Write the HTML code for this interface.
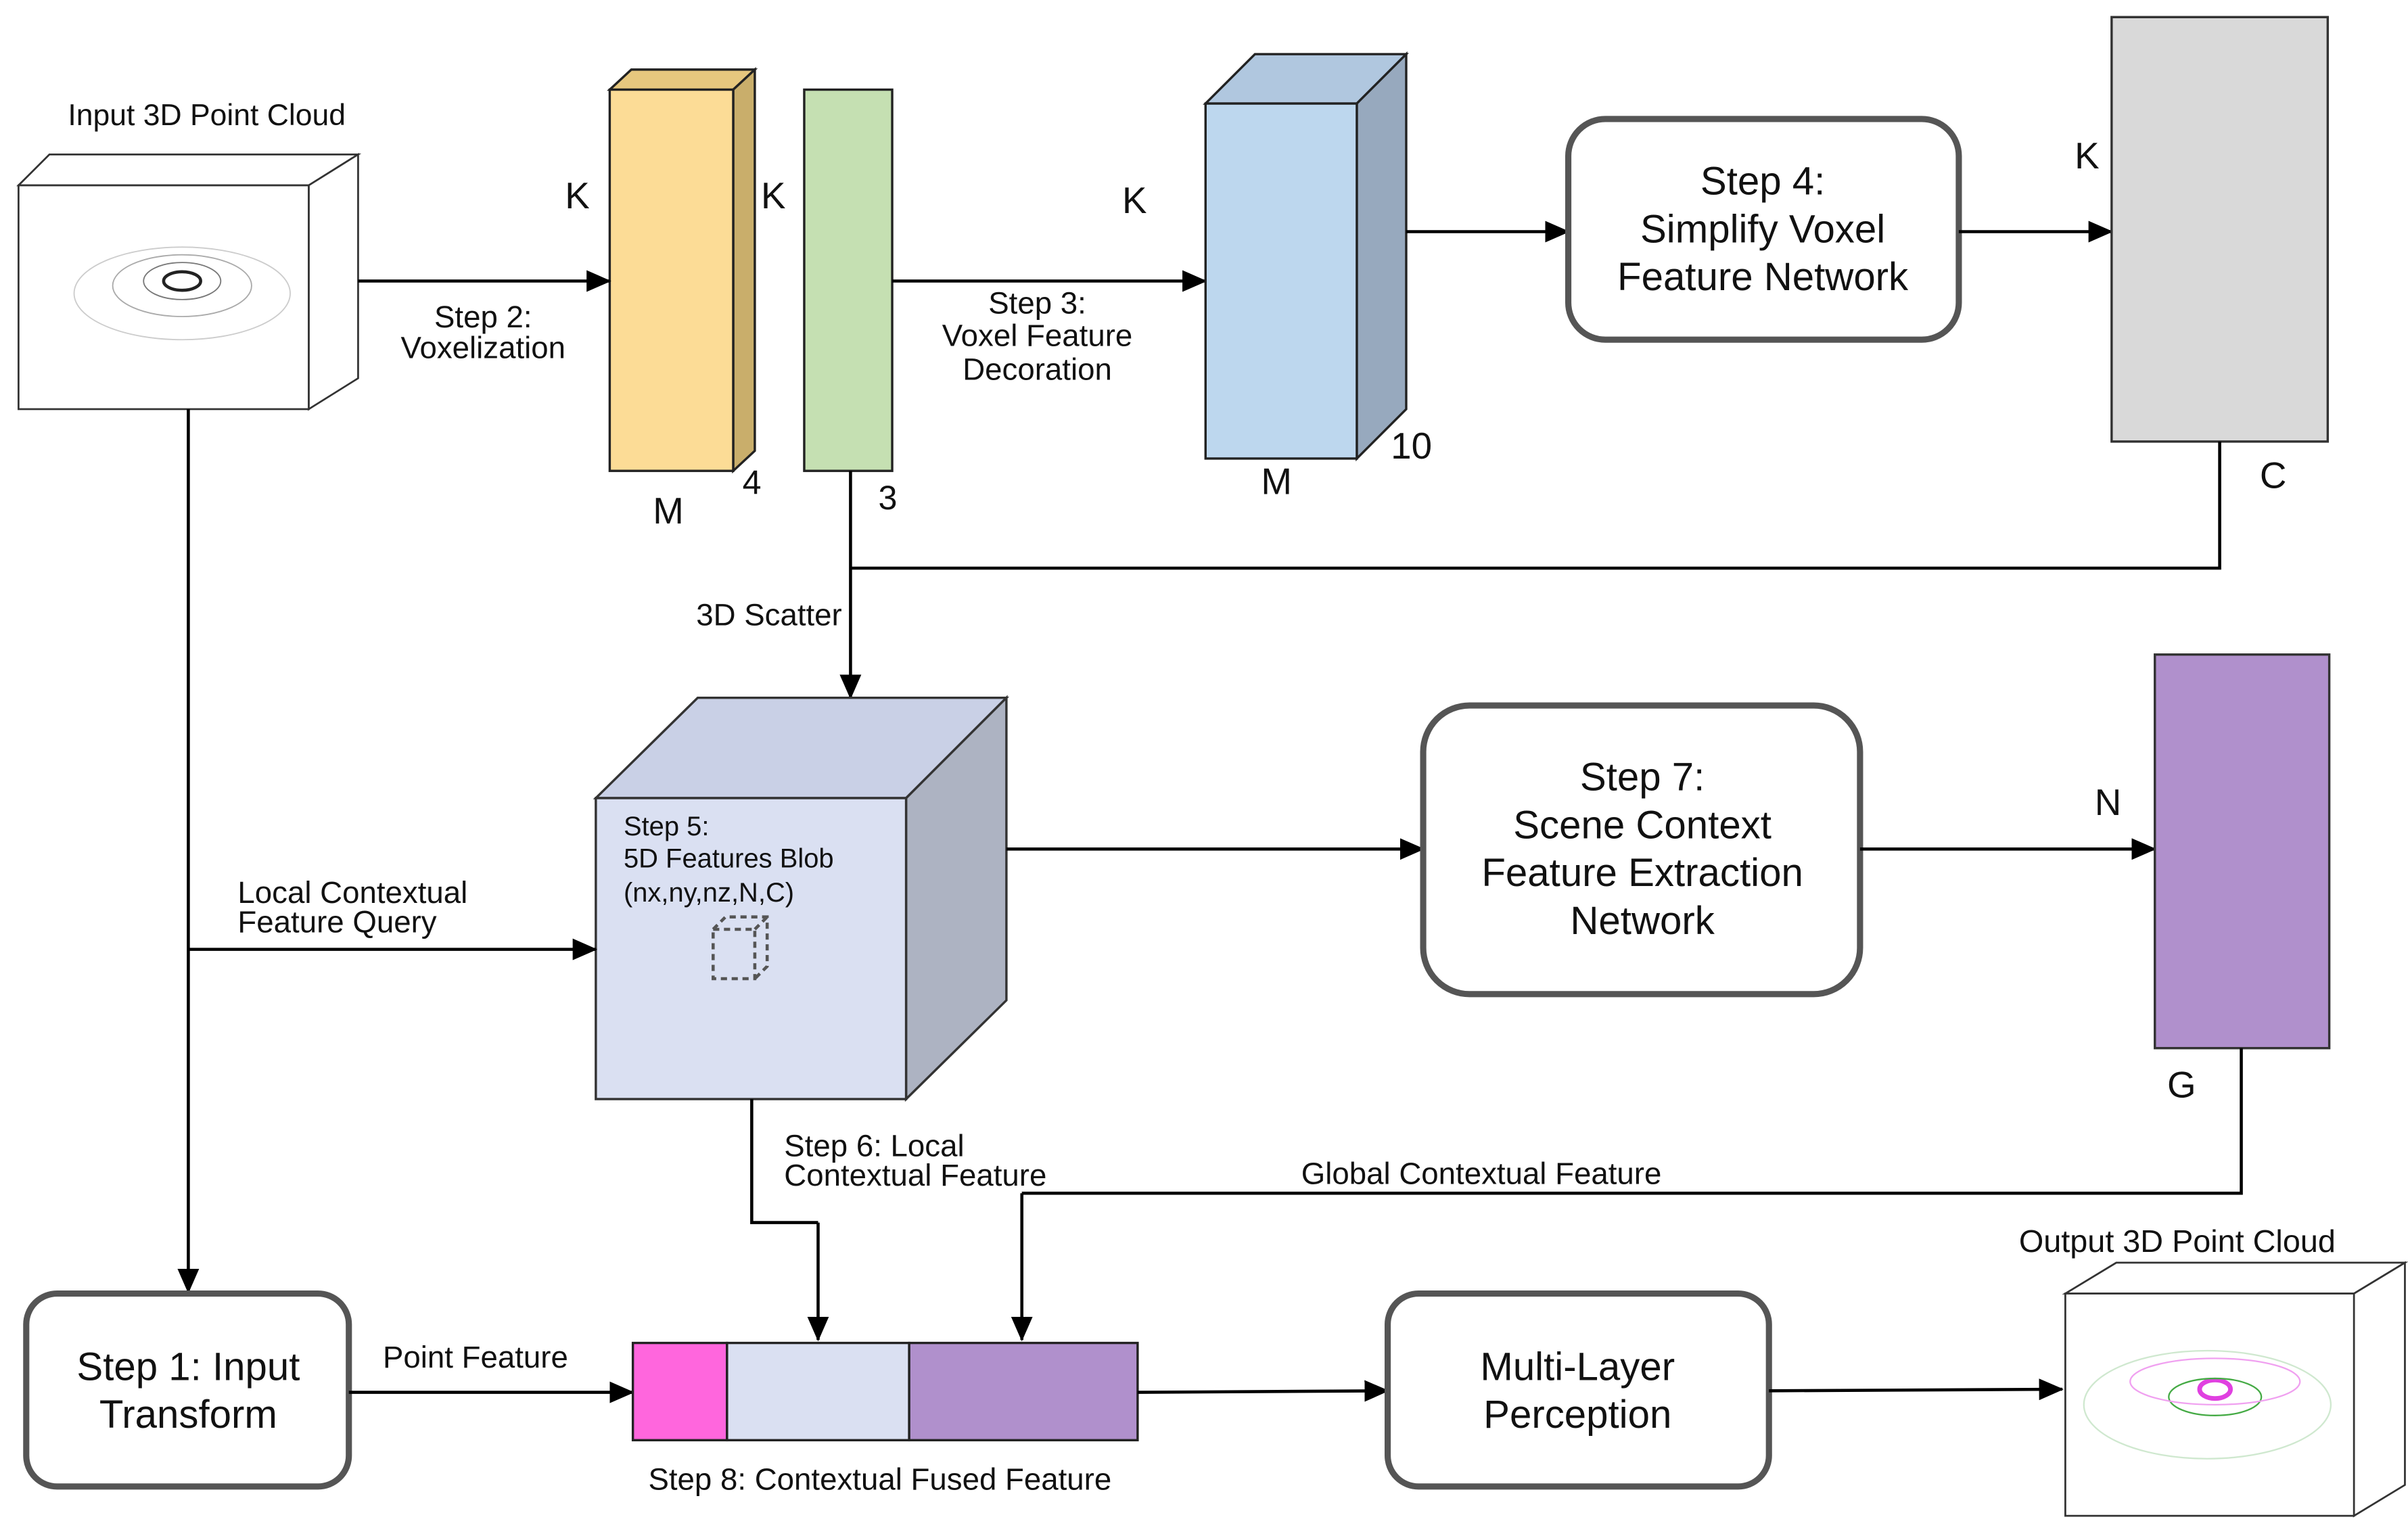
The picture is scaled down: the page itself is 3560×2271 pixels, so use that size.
<!DOCTYPE html>
<html><head><meta charset="utf-8"><style>
html,body{margin:0;padding:0;background:#fff;}
svg{display:block;}
text{font-family:"Liberation Sans",Arial,sans-serif;fill:#111;}
</style></head><body>
<svg width="3560" height="2271" viewBox="0 0 1560 995" xmlns="http://www.w3.org/2000/svg">
<defs>
<marker id="b" markerWidth="16" markerHeight="14" refX="15" refY="7" orient="auto" markerUnits="userSpaceOnUse">
<path d="M0,0 L16,7 L0,14 z" fill="#000"/></marker>
</defs>
<rect width="1560" height="995" fill="#fff"/>

<!-- Input cloud -->
<polygon points="12,120 32,100 232,100 200,120" fill="#fff" stroke="#333" stroke-width="1.2"/>
<polygon points="200,120 232,100 232,245 200,265" fill="#fff" stroke="#333" stroke-width="1.2"/>
<rect x="12" y="120" width="188" height="145" fill="#fff" stroke="#333" stroke-width="1.2"/>
<g fill="none" stroke="#777" stroke-width="0.8">
<ellipse cx="118" cy="182" rx="12" ry="6" stroke="#222" stroke-width="2"/>
<ellipse cx="118" cy="182" rx="25" ry="12"/>
<ellipse cx="118" cy="185" rx="45" ry="20" stroke="#aaa"/>
<ellipse cx="118" cy="190" rx="70" ry="30" stroke="#ccc"/>
</g>
<text x="44" y="81" font-size="19.5">Input 3D Point Cloud</text>

<!-- Yellow block -->
<polygon points="395,58 409,45 489,45 475,58" fill="#E6C77E" stroke="#222" stroke-width="1.5"/>
<polygon points="475,58 489,45 489,292 475,305" fill="#C9AE6B" stroke="#222" stroke-width="1.5"/>
<rect x="395" y="58" width="80" height="247" fill="#FCDC96" stroke="#222" stroke-width="1.5"/>
<rect x="521" y="58" width="57" height="247" fill="#C5E0B2" stroke="#222" stroke-width="1.5"/>
<text x="366" y="135" font-size="24">K</text>
<text x="493" y="135" font-size="24">K</text>
<text x="727" y="138" font-size="24">K</text>
<text x="423" y="339" font-size="24">M</text>
<text x="481" y="320" font-size="22">4</text>
<text x="569" y="330" font-size="22">3</text>

<line x1="232" y1="182" x2="395" y2="182" stroke="#000" stroke-width="2" marker-end="url(#b)"/>
<text x="313" y="212" font-size="20" text-anchor="middle">Step 2:</text>
<text x="313" y="232" font-size="20" text-anchor="middle">Voxelization</text>
<line x1="578" y1="182" x2="781" y2="182" stroke="#000" stroke-width="2" marker-end="url(#b)"/>
<text x="672" y="203" font-size="20" text-anchor="middle">Step 3:</text>
<text x="672" y="224" font-size="20" text-anchor="middle">Voxel Feature</text>
<text x="672" y="246" font-size="20" text-anchor="middle">Decoration</text>

<!-- Blue block -->
<polygon points="781,67 813,35 911,35 879,67" fill="#B0C7DF" stroke="#222" stroke-width="1.5"/>
<polygon points="879,67 911,35 911,265 879,297" fill="#97A9BE" stroke="#222" stroke-width="1.5"/>
<rect x="781" y="67" width="98" height="230" fill="#BDD7EE" stroke="#222" stroke-width="1.5"/>
<text x="901" y="297" font-size="24">10</text>
<text x="817" y="320" font-size="24">M</text>

<line x1="911" y1="150" x2="1016" y2="150" stroke="#000" stroke-width="2" marker-end="url(#b)"/>
<rect x="1016" y="77" width="253" height="143" rx="24" fill="#fff" stroke="#555" stroke-width="4"/>
<text x="1142" y="126" font-size="25.5" text-anchor="middle">Step 4:</text>
<text x="1142" y="157" font-size="25.5" text-anchor="middle">Simplify Voxel</text>
<text x="1142" y="188" font-size="25.5" text-anchor="middle">Feature Network</text>
<line x1="1269" y1="150" x2="1368" y2="150" stroke="#000" stroke-width="2" marker-end="url(#b)"/>
<text x="1344" y="109" font-size="24">K</text>
<rect x="1368" y="11" width="140" height="275" fill="#D9D9D9" stroke="#333" stroke-width="1.5"/>
<text x="1464" y="316" font-size="24">C</text>

<polyline points="1438,286 1438,368 551,368" fill="none" stroke="#000" stroke-width="2"/>
<line x1="551" y1="305" x2="551" y2="452" stroke="#000" stroke-width="2" marker-end="url(#b)"/>
<text x="451" y="405" font-size="20">3D Scatter</text>

<!-- Big cube -->
<polygon points="386,517 452,452 652,452 587,517" fill="#C9D0E6" stroke="#333" stroke-width="1.5"/>
<polygon points="587,517 652,452 652,648 587,712" fill="#ADB3C2" stroke="#333" stroke-width="1.5"/>
<rect x="386" y="517" width="201" height="195" fill="#DAE0F2" stroke="#333" stroke-width="1.5"/>
<text x="404" y="541" font-size="17.5">Step 5:</text>
<text x="404" y="562" font-size="17.5">5D Features Blob</text>
<text x="404" y="584" font-size="17.5">(nx,ny,nz,N,C)</text>
<g fill="none" stroke="#555" stroke-width="2" stroke-dasharray="4,3">
<rect x="462" y="602" width="27" height="32"/>
<polyline points="462,602 470,594 497,594 497,626 489,634"/>
<line x1="489" y1="602" x2="497" y2="594"/>
</g>

<line x1="652" y1="550" x2="922" y2="550" stroke="#000" stroke-width="2" marker-end="url(#b)"/>
<rect x="922" y="457" width="283" height="187" rx="30" fill="#fff" stroke="#555" stroke-width="4"/>
<text x="1064" y="512" font-size="25.5" text-anchor="middle">Step 7:</text>
<text x="1064" y="543" font-size="25.5" text-anchor="middle">Scene Context</text>
<text x="1064" y="574" font-size="25.5" text-anchor="middle">Feature Extraction</text>
<text x="1064" y="605" font-size="25.5" text-anchor="middle">Network</text>
<line x1="1205" y1="550" x2="1396" y2="550" stroke="#000" stroke-width="2" marker-end="url(#b)"/>
<text x="1357" y="528" font-size="24">N</text>
<rect x="1396" y="424" width="113" height="255" fill="#B090CC" stroke="#333" stroke-width="1.5"/>
<text x="1404" y="711" font-size="24">G</text>

<polyline points="1452,679 1452,773 662,773" fill="none" stroke="#000" stroke-width="2"/>
<line x1="662" y1="773" x2="662" y2="868" stroke="#000" stroke-width="2" marker-end="url(#b)"/>
<text x="843" y="767" font-size="20">Global Contextual Feature</text>
<polyline points="487,712 487,792 530,792" fill="none" stroke="#000" stroke-width="2"/>
<line x1="530" y1="792" x2="530" y2="868" stroke="#000" stroke-width="2" marker-end="url(#b)"/>
<text x="508" y="749" font-size="20">Step 6: Local</text>
<text x="508" y="768" font-size="20">Contextual Feature</text>

<line x1="122" y1="265" x2="122" y2="837" stroke="#000" stroke-width="2" marker-end="url(#b)"/>
<line x1="122" y1="615" x2="386" y2="615" stroke="#000" stroke-width="2" marker-end="url(#b)"/>
<text x="154" y="585" font-size="20">Local Contextual</text>
<text x="154" y="604" font-size="20">Feature Query</text>

<rect x="17" y="838" width="209" height="125" rx="20" fill="#fff" stroke="#555" stroke-width="4"/>
<text x="122" y="894" font-size="25.5" text-anchor="middle">Step 1: Input</text>
<text x="122" y="925" font-size="25.5" text-anchor="middle">Transform</text>
<line x1="226" y1="902" x2="410" y2="902" stroke="#000" stroke-width="2" marker-end="url(#b)"/>
<text x="248" y="886" font-size="20">Point Feature</text>

<rect x="410" y="870" width="61" height="63" fill="#FF66DD" stroke="#222" stroke-width="1.5"/>
<rect x="471" y="870" width="118" height="63" fill="#DAE0F2" stroke="#222" stroke-width="1.5"/>
<rect x="589" y="870" width="148" height="63" fill="#B090CC" stroke="#222" stroke-width="1.5"/>
<text x="420" y="965" font-size="20">Step 8: Contextual Fused Feature</text>

<line x1="737" y1="902" x2="899" y2="901" stroke="#000" stroke-width="2" marker-end="url(#b)"/>
<rect x="899" y="838" width="247" height="125" rx="20" fill="#fff" stroke="#555" stroke-width="4"/>
<text x="1022" y="894" font-size="25.5" text-anchor="middle">Multi-Layer</text>
<text x="1022" y="925" font-size="25.5" text-anchor="middle">Perception</text>
<line x1="1146" y1="901" x2="1336" y2="900" stroke="#000" stroke-width="2" marker-end="url(#b)"/>

<!-- Output cloud -->
<polygon points="1338,838 1371,818 1558,818 1525,838" fill="#fff" stroke="#333" stroke-width="1.2"/>
<polygon points="1525,838 1558,818 1558,962 1525,982" fill="#fff" stroke="#333" stroke-width="1.2"/>
<rect x="1338" y="838" width="187" height="144" fill="#fff" stroke="#333" stroke-width="1.2"/>
<g fill="none" stroke-width="1">
<ellipse cx="1435" cy="900" rx="10" ry="6" stroke="#e040e0" stroke-width="3"/>
<ellipse cx="1435" cy="905" rx="30" ry="12" stroke="#4a4"/>
<ellipse cx="1435" cy="895" rx="55" ry="15" stroke="#f0a0f0"/>
<ellipse cx="1430" cy="910" rx="80" ry="35" stroke="#cfe8cf"/>
</g>
<text x="1308" y="811" font-size="20.5">Output 3D Point Cloud</text>
</svg>
</body></html>
